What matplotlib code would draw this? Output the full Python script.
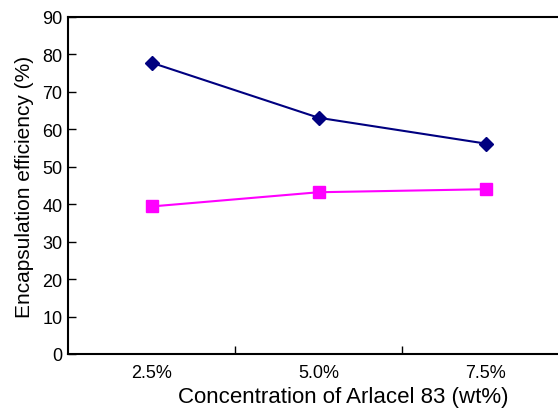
import matplotlib
matplotlib.use('Agg')
import matplotlib.pyplot as plt
import numpy as np

plt.rcParams['font.family'] = ['Liberation Sans', 'DejaVu Sans']

concentrations = ['2.5%', '5.0%', '7.5%']
series_a = [77.8, 63.1, 56.2]
series_b = [39.4, 43.2, 44.0]

fig = plt.figure(figsize=(5.58, 4.10), dpi=100)
ax = fig.add_axes([68 / 558, 1 - 355 / 410, (569 - 68) / 558, (355 - 18) / 410])

x = np.arange(len(concentrations))
ax.plot(x, series_a, color='#000080', marker='D', markersize=7, linewidth=1.5, clip_on=False)
ax.plot(x, series_b, color='#FF00FF', marker='s', markersize=8, linewidth=1.5, clip_on=False)

ax.set_xlim(-0.5, len(concentrations) - 0.5)
ax.set_ylim(0, 90)
ax.set_yticks(np.arange(0, 91, 10))
ax.set_xticks(x)
ax.set_xticklabels(concentrations)
ax.set_xticks(x[:-1] + 0.5, minor=True)

ax.tick_params(axis='x', which='major', length=0, labelsize=13, pad=7)
ax.tick_params(axis='x', which='minor', direction='in', length=6, width=1)
ax.tick_params(axis='y', direction='in', length=6, width=1, labelsize=13, pad=4)

for side in ['left', 'bottom', 'top']:
    ax.spines[side].set_linewidth(1.5)
ax.spines['right'].set_visible(False)

ax.set_xlabel('Concentration of Arlacel 83 (wt%)', fontsize=16)
ax.xaxis.set_label_coords((343 - 68) / (569 - 68), -0.095)
ax.set_ylabel('Encapsulation efficiency (%)', fontsize=15, labelpad=6)

fig.savefig('out.png', dpi=100)
